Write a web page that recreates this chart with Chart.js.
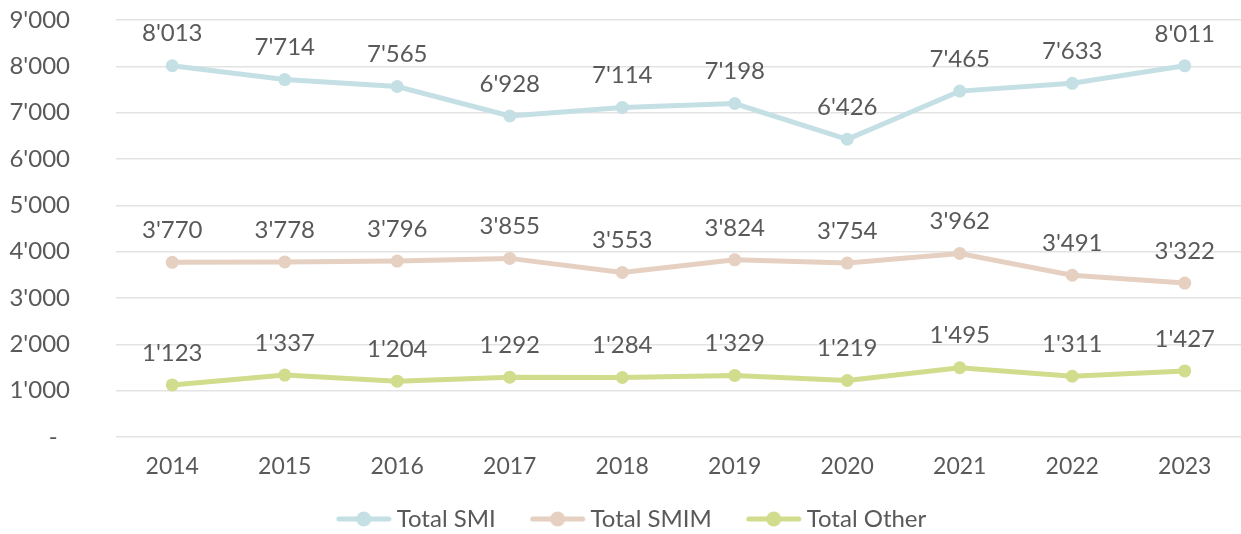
<!DOCTYPE html>
<html>
<head>
<meta charset="utf-8">
<script src="https://cdn.jsdelivr.net/npm/chart.js@4"></script>
<style>
  html, body { margin: 0; padding: 0; background: #fff; overflow: hidden; }
  #wrap { position: relative; width: 1241px; height: 534px; }
  #chart { display: block; }
</style>
</head>
<body>
<div id="wrap"><canvas id="chart"></canvas></div>
<script>
// Data.
const years = ['2014', '2015', '2016', '2017', '2018', '2019', '2020', '2021', '2022', '2023'];
const totalSMI = [8013, 7714, 7565, 6928, 7114, 7198, 6426, 7465, 7633, 8011];
const totalSMIM = [3770, 3778, 3796, 3855, 3553, 3824, 3754, 3962, 3491, 3322];
const totalOther = [1123, 1337, 1204, 1292, 1284, 1329, 1219, 1495, 1311, 1427];

const colSMI = '#c5e0e5';
const colSMIM = '#e6d0c2';
const colOther = '#d2dc8d';
const textColor = '#595959';
const fontFamily = 'Lato, "Open Sans", sans-serif';

// 8013 -> 8'013
const fmt = (v) => {
  if (v === 0) return '-  ';
  return String(Math.round(v)).replace(/\B(?=(\d{3})+(?!\d))/g, "'");
};

// legend marker: short line with a dot in the middle
const makeMarker = (color) => {
  const c = document.createElement('canvas');
  c.width = 56;
  c.height = 20;
  const ctx = c.getContext('2d');
  ctx.strokeStyle = color;
  ctx.lineWidth = 5;
  ctx.lineCap = 'round';
  ctx.beginPath();
  ctx.moveTo(3, 10);
  ctx.lineTo(53, 10);
  ctx.stroke();
  ctx.fillStyle = color;
  ctx.beginPath();
  ctx.arc(28, 10, 7.5, 0, Math.PI * 2);
  ctx.fill();
  return c;
};

// draws the value above each point
const valueLabels = {
  id: 'valueLabels',
  afterDatasetsDraw(chart) {
    const ctx = chart.ctx;
    ctx.save();
    ctx.font = '24px ' + fontFamily;
    ctx.fillStyle = textColor;
    ctx.textAlign = 'center';
    ctx.textBaseline = 'middle';
    chart.data.datasets.forEach((ds, i) => {
      chart.getDatasetMeta(i).data.forEach((pt, j) => {
        ctx.fillText(fmt(ds.data[j]), pt.x, pt.y - 32);
      });
    });
    ctx.restore();
  }
};

// nudge the legend a bit to the right, like the original
const legendShift = {
  id: 'legendShift',
  afterLayout(chart) {
    if (chart.legend) {
      chart.legend.left += 14;
      chart.legend.right += 14;
    }
  }
};

const makeSet = (label, data, color) => ({
  label: label,
  data: data,
  borderColor: color,
  backgroundColor: color,
  borderWidth: 5,
  pointRadius: 6.5,
  pointHoverRadius: 6.5,
  pointBorderWidth: 0,
  tension: 0,
  markerImg: makeMarker(color)
});

const config = {
  type: 'line',
  data: {
    labels: years,
    datasets: [
      makeSet('Total SMI', totalSMI, colSMI),
      makeSet('Total SMIM', totalSMIM, colSMIM),
      makeSet('Total Other', totalOther, colOther)
    ]
  },
  options: {
    responsive: true,
    maintainAspectRatio: false,
    animation: false,
    layout: { autoPadding: false, padding: { top: 20, right: 0, left: 0, bottom: -7 } },
    plugins: {
      tooltip: { enabled: false },
      legend: {
        position: 'bottom',
        labels: {
          usePointStyle: true,
          pointStyleWidth: 42,
          boxHeight: 20,
          padding: 4,
          color: textColor,
          font: { family: fontFamily, size: 24 },
          generateLabels(chart) {
            const last = chart.data.datasets.length - 1;
            return chart.data.datasets.map((ds, i) => ({
              text: ds.label + (i < last ? '      ' : ''),
              fillStyle: ds.borderColor,
              strokeStyle: ds.borderColor,
              lineWidth: 0,
              pointStyle: ds.markerImg,
              fontColor: textColor,
              hidden: false,
              datasetIndex: i
            }));
          }
        }
      }
    },
    scales: {
      x: {
        offset: true,
        grid: { display: false, drawTicks: false },
        border: { display: false },
        afterFit(scale) {
          scale.height = 66;
          scale.paddingLeft = 0;
          scale.paddingRight = 0;
        },
        ticks: {
          color: textColor,
          font: { family: fontFamily, size: 23 },
          padding: 16,
          maxRotation: 0
        }
      },
      y: {
        min: 0,
        max: 9000,
        grid: { color: '#e3e3e3', lineWidth: 1.5, drawTicks: false },
        border: { display: false },
        afterFit(scale) {
          scale.width = 116;
          scale.paddingTop = 12;
          scale.paddingBottom = 12;
        },
        ticks: {
          stepSize: 1000,
          color: textColor,
          padding: 46,
          font: { family: fontFamily, size: 24 },
          callback: (v) => fmt(v)
        }
      }
    }
  },
  plugins: [valueLabels, legendShift]
};

new Chart(document.getElementById('chart'), config);
</script>
</body>
</html>
